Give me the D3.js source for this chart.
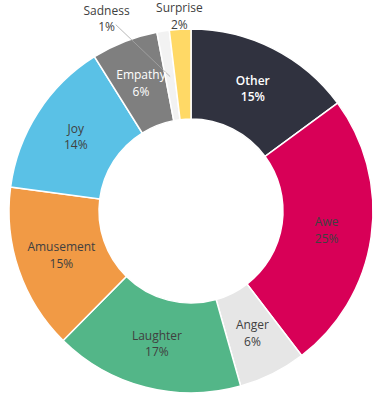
<!DOCTYPE html>
<html>
<head>
<meta charset="utf-8">
<script src="https://cdn.jsdelivr.net/npm/d3@7"></script>
<style>
  body { margin: 0; background: #fff; }
  svg { display: block; }
  text { font-family: "Open Sans", "Noto Sans", sans-serif; font-size: 12px; }
</style>
</head>
<body>
<svg id="chart" width="384" height="400"></svg>
<script>
var categories = ["Other", "Awe", "Anger", "Laughter", "Amusement", "Joy", "Empathy", "Sadness", "Surprise"];
var values = [14.9, 24.7, 6.0, 16.8, 14.7, 14.0, 5.9, 1.1, 1.9];
var pctLabels = ["15%", "25%", "6%", "17%", "15%", "14%", "6%", "1%", "2%"];
var colors = ["#30323f", "#d80057", "#e6e6e6", "#53b688", "#f19a45", "#5ac1e6", "#7f7f7f", "#f2f2f2", "#ffd966"];

var svg = d3.select("#chart");
var cx = 191, cy = 211;
var outerR = 182, innerR = 92;

var data = categories.map(function(c, i) {
    return { name: c, value: values[i], pct: pctLabels[i], color: colors[i] };
});

var pie = d3.pie().sort(null).value(function(d) { return d.value; });
var arcs = pie(data);

var arc = d3.arc().innerRadius(innerR).outerRadius(outerR);
var labelArc = d3.arc().innerRadius(137).outerRadius(137);

var g = svg.append("g").attr("transform", "translate(" + cx + "," + cy + ")");

g.selectAll("path.slice")
    .data(arcs)
    .enter().append("path")
    .attr("class", "slice")
    .attr("d", arc)
    .attr("fill", function(d) { return d.data.color; })
    .attr("stroke", "#fff")
    .attr("stroke-width", 1.5);

// small slices get their labels outside the ring
function isSmall(d) { return d.data.value < 3; }

function outsidePos(d) {
    var a = (d.startAngle + d.endAngle) / 2;
    var r = 195;
    if (d.data.name === "Sadness") { a -= 0.26; r = 210; }
    return [Math.sin(a) * r, -Math.cos(a) * r];
}

// leader line for Sadness
arcs.filter(function(d) { return d.data.name === "Sadness"; }).forEach(function(d) {
    var a = (d.startAngle + d.endAngle) / 2;
    var p = outsidePos(d);
    var a0 = Math.atan2(p[0], -p[1]);
    g.append("line")
        .attr("x1", Math.sin(a0 + 0.03) * 201)
        .attr("y1", -Math.cos(a0 + 0.03) * 201)
        .attr("x2", Math.sin(a) * 136)
        .attr("y2", -Math.cos(a) * 136)
        .attr("stroke", "#a6a6a6")
        .attr("stroke-width", 0.8);
});

var whiteText = { "Other": true, "Empathy": true };

var labels = g.selectAll("text.lbl")
    .data(arcs)
    .enter().append("text")
    .attr("class", "lbl")
    .attr("text-anchor", "middle")
    .attr("transform", function(d) {
        var p = isSmall(d) ? outsidePos(d) : labelArc.centroid(d);
        return "translate(" + p[0] + "," + p[1] + ")";
    })
    .attr("fill", function(d) { return whiteText[d.data.name] ? "#fff" : "#404040"; })
    .attr("font-weight", function(d) { return d.data.name === "Other" ? "600" : "400"; });

labels.append("tspan")
    .attr("x", 0)
    .attr("y", -8.3)
    .attr("dy", "0.35em")
    .text(function(d) { return d.data.name; });

labels.append("tspan")
    .attr("x", 0)
    .attr("y", 8.3)
    .attr("dy", "0.35em")
    .text(function(d) { return d.data.pct; });
</script>
</body>
</html>
